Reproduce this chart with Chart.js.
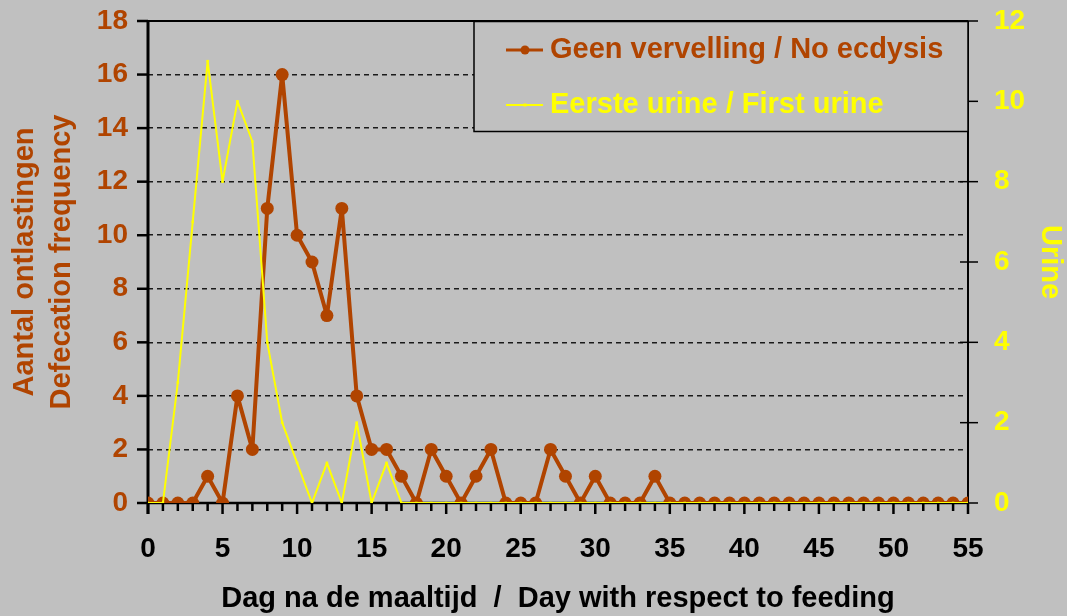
<!DOCTYPE html>
<html>
<head>
<meta charset="utf-8">
<script src="https://cdn.jsdelivr.net/npm/chart.js@4"></script>
<style>
html,body{margin:0;padding:0;background:#c0c0c0;}
#c{display:block;}
</style>
</head>
<body>
<canvas id="c" width="1067" height="616"></canvas>
<script>
// ---- data ----
const days = [0,1,2,3,4,5,6,7,8,9,10,11,12,13,14,15,16,17,18,19,20,21,22,23,24,25,26,27,28,29,30,31,32,33,34,35,36,37,38,39,40,41,42,43,44,45,46,47,48,49,50,51,52,53,54,55];
const defecation = [0,0,0,0,1,0,4,2,11,16,10,9,7,11,4,2,2,1,0,2,1,0,1,2,0,0,0,2,1,0,1,0,0,0,1,0,0,0,0,0,0,0,0,0,0,0,0,0,0,0,0,0,0,0,0,0];
const urine = [0,0,3,7,11,8,10,9,4,2,1,0,1,0,2,0,1,0,0,0,0,0,0,0,0,0,0,0,0,0,0,0,0,0,0,0,0,0,0,0,0,0,0,0,0,0,0,0,0,0,0,0,0,0,0,0];
const leftTicks = [0,2,4,6,8,10,12,14,16,18];
const rightTicks = [0,2,4,6,8,10,12];
const xTickLabels = [0,5,10,15,20,25,30,35,40,45,50,55];
const seriesNames = ['Geen vervelling / No ecdysis', 'Eerste urine / First urine'];
const leftTitle = ['Aantal ontlastingen', 'Defecation frequency'];
const rightTitle = 'Urine';
const xTitle = 'Dag na de maaltijd  /  Day with respect to feeding';

// ---- styles ----
const BROWN = '#B04400';
const YELLOW = '#FFFF00';
const FONT = '"Liberation Sans", Arial, sans-serif';

const framePlugin = {
  id: 'frame',
  beforeDatasetsDraw(chart) {
    const {ctx, chartArea: a, scales} = chart;
    ctx.save();
    ctx.strokeStyle = '#000';
    ctx.lineCap = 'butt';
    ctx.lineWidth = 2.5;
    days.forEach(d => {
      const px = scales.x.getPixelForValue(d);
      const len = (d % 5 === 0) ? 11 : 8;
      ctx.beginPath(); ctx.moveTo(px, a.bottom); ctx.lineTo(px, a.bottom + len); ctx.stroke();
    });
    leftTicks.forEach(v => {
      const py = scales.y.getPixelForValue(v);
      ctx.beginPath(); ctx.moveTo(a.left - 11, py); ctx.lineTo(a.left, py); ctx.stroke();
    });
    ctx.lineWidth = 1.5;
    rightTicks.forEach(v => {
      const py = scales.y1.getPixelForValue(v);
      ctx.beginPath(); ctx.moveTo(a.right - 8, py); ctx.lineTo(a.right + 10, py); ctx.stroke();
    });
    ctx.lineWidth = 2;
    ctx.beginPath(); ctx.moveTo(a.left - 11, a.top); ctx.lineTo(a.right, a.top); ctx.stroke();
    ctx.beginPath(); ctx.moveTo(a.right, a.top); ctx.lineTo(a.right, a.bottom + 8); ctx.stroke();
    ctx.lineWidth = 2.5;
    ctx.beginPath(); ctx.moveTo(a.left, a.bottom); ctx.lineTo(a.right, a.bottom); ctx.stroke();
    ctx.lineWidth = 3;
    ctx.beginPath(); ctx.moveTo(a.left, a.top - 1); ctx.lineTo(a.left, a.bottom + 11); ctx.stroke();
    ctx.restore();
  }
};

const legendPlugin = {
  id: 'boxLegend',
  afterDatasetsDraw(chart) {
    const {ctx, chartArea: a} = chart;
    const x0 = 474, y0 = a.top + 0.5, x1 = a.right, y1 = 131.5;
    ctx.save();
    ctx.fillStyle = '#c0c0c0';
    ctx.fillRect(x0, y0, x1 - x0, y1 - y0);
    ctx.strokeStyle = '#000';
    ctx.lineWidth = 1.5;
    ctx.strokeRect(x0, y0, x1 - x0, y1 - y0);
    const rows = [50, 105];
    chart.data.datasets.forEach((ds, i) => {
      const y = rows[i];
      ctx.strokeStyle = ds.borderColor;
      ctx.lineWidth = i === 0 ? 3 : 2;
      ctx.beginPath(); ctx.moveTo(506, y); ctx.lineTo(543, y); ctx.stroke();
      ctx.fillStyle = ds.borderColor;
      if (i === 0) {
        ctx.beginPath(); ctx.arc(525, y, 4.5, 0, Math.PI * 2); ctx.fill();
      } else {
        ctx.fillRect(523.5, y - 1.5, 3, 3);
      }
      ctx.font = 'bold 29px ' + FONT;
      ctx.textBaseline = 'middle';
      ctx.textAlign = 'left';
      ctx.fillText(ds.label, 550, y);
    });
    ctx.restore();
  }
};

const tickFont = {family: FONT, size: 28, weight: 'bold'};
const titleFont = {family: FONT, size: 29, weight: 'bold'};

new Chart(document.getElementById('c'), {
  type: 'line',
  data: {
    datasets: [
      {
        label: seriesNames[0],
        data: days.map((d, i) => ({x: d, y: defecation[i]})),
        borderColor: BROWN,
        backgroundColor: BROWN,
        borderWidth: 4,
        borderJoinStyle: 'round',
        pointRadius: 6.5,
        pointBorderWidth: 0,
        pointBackgroundColor: BROWN,
        pointStyle: 'circle',
        tension: 0,
        yAxisID: 'y',
        order: 1
      },
      {
        label: seriesNames[1],
        data: days.map((d, i) => ({x: d, y: urine[i]})),
        borderColor: YELLOW,
        backgroundColor: YELLOW,
        borderWidth: 2,
        borderJoinStyle: 'round',
        pointRadius: 1.8,
        pointBorderWidth: 0,
        pointBackgroundColor: YELLOW,
        pointStyle: 'rect',
        tension: 0,
        yAxisID: 'y1',
        order: 0
      }
    ]
  },
  options: {
    responsive: false,
    animation: false,
    events: [],
    layout: {padding: {top: 21, left: 0, right: 0, bottom: 0}},
    plugins: {legend: {display: false}, tooltip: {enabled: false}, title: {display: false}},
    scales: {
      x: {
        type: 'linear', min: 0, max: 55,
        afterBuildTicks: s => { s.ticks = xTickLabels.map(v => ({value: v})); },
        ticks: {color: '#000', font: tickFont, padding: 29, maxRotation: 0, autoSkip: false},
        grid: {display: false, drawTicks: false},
        border: {display: false},
        title: {display: true, text: xTitle, color: '#000', font: titleFont, padding: {top: 0, bottom: 0}},
        afterFit: s => { s.height = 113; s.paddingLeft = 0; s.paddingRight = 0; }
      },
      y: {
        position: 'left', min: 0, max: 18,
        afterBuildTicks: s => { s.ticks = leftTicks.map(v => ({value: v})); },
        ticks: {color: BROWN, font: tickFont, padding: 20},
        grid: {drawTicks: false, lineWidth: 1.5, color: c => (c.tick && c.tick.value > 0 && c.tick.value < 18) ? '#1a1a1a' : 'rgba(0,0,0,0)'},
        border: {display: false, dash: [5, 4]},
        title: {display: true, text: leftTitle, color: BROWN, font: {family: FONT, size: 29, weight: 'bold', lineHeight: 1.28}, padding: {top: 6, bottom: 0}},
        afterFit: s => { s.width = 148; s.paddingTop = 0; s.paddingBottom = 0; }
      },
      y1: {
        position: 'right', min: 0, max: 12,
        afterBuildTicks: s => { s.ticks = rightTicks.map(v => ({value: v})); },
        ticks: {color: YELLOW, font: tickFont, padding: 26},
        grid: {display: false, drawTicks: false},
        border: {display: false},
        title: {display: true, text: rightTitle, color: YELLOW, font: titleFont, padding: {top: 0, bottom: 0}},
        afterFit: s => { s.width = 99; s.paddingTop = 0; s.paddingBottom = 0; }
      }
    }
  },
  plugins: [framePlugin, legendPlugin]
});
</script>
</body>
</html>
